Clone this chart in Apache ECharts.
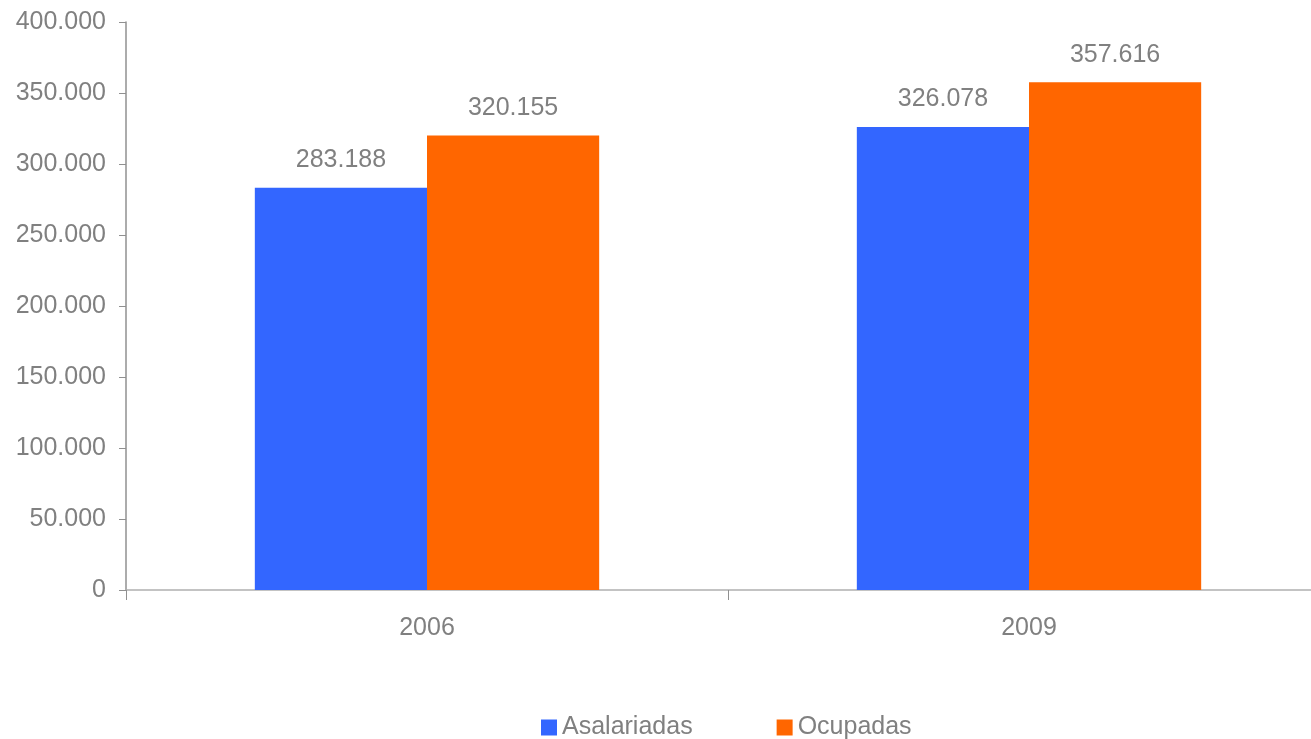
<!DOCTYPE html>
<html><head><meta charset="utf-8">
<script src="https://cdn.jsdelivr.net/npm/echarts@6/dist/echarts.min.js"></script>
<style>html,body{margin:0;padding:0;background:#fff}#c{width:1311px;height:739px}</style>
</head><body><div id="c"></div>
<script>
// data
const cats = ['2006', '2009'];
const seriesNames = ['Asalariadas', 'Ocupadas'];
const asalariadasVals = [283188, 326078];
const ocupadasVals = [320155, 357616];
const yTicks = [0, 50000, 100000, 150000, 200000, 250000, 300000, 350000, 400000];

const fmt = v => String(v).replace(/\B(?=(\d{3})+(?!\d))/g, '.');
const font = 'Liberation Sans, Arial, Helvetica, sans-serif';
const gray = '#808080';
const chart = echarts.init(document.getElementById('c'));
chart.setOption({
  animation: false,
  textStyle: { fontFamily: font },
  grid: { left: 126, width: 1204, top: 22, bottom: 149, containLabel: false, outerBoundsMode: 'none' },
  legend: {
    top: 715, left: 541, padding: 0, itemWidth: 16, itemHeight: 16, itemGap: 84,
    icon: 'rect',
    textStyle: { color: gray, fontSize: 25, fontFamily: font },
    data: seriesNames
  },
  xAxis: {
    type: 'category', data: cats,
    axisLine: { lineStyle: { color: '#b0b0b0', width: 1.5 } },
    axisTick: { show: true, length: 10, lineStyle: { color: '#909090' } },
    axisLabel: { color: gray, fontSize: 25, margin: 26 }
  },
  yAxis: {
    type: 'value', min: 0, max: yTicks[yTicks.length - 1], interval: yTicks[1] - yTicks[0],
    axisLine: { show: true, lineStyle: { color: '#909090', width: 1.5 } },
    axisTick: { show: true, length: 7, lineStyle: { color: '#909090' } },
    splitLine: { show: false },
    axisLabel: { color: gray, fontSize: 25, margin: 20, formatter: fmt }
  },
  series: [
    { name: seriesNames[0], type: 'bar', data: asalariadasVals, barGap: '0%', barCategoryGap: '42.8%',
      itemStyle: { color: '#3366FF' },
      label: { show: true, position: 'top', distance: 15, color: gray, fontSize: 25, formatter: p => fmt(p.value) } },
    { name: seriesNames[1], type: 'bar', data: ocupadasVals, barGap: '0%', barCategoryGap: '42.8%',
      itemStyle: { color: '#FF6600' },
      label: { show: true, position: 'top', distance: 15, color: gray, fontSize: 25, formatter: p => fmt(p.value) } }
  ]
});
</script></body></html>
